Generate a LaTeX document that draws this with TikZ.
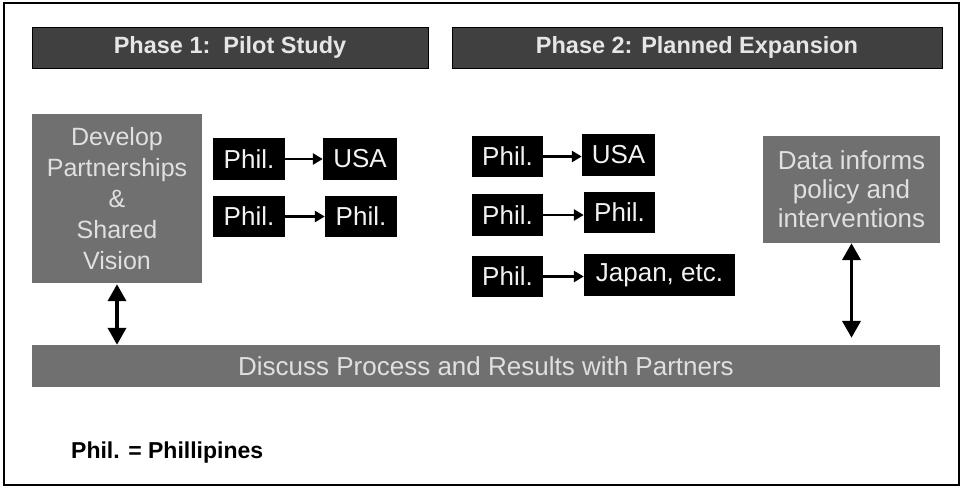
\documentclass[tikz,border=0pt]{standalone}
\usepackage{fontspec}
\setmainfont{Liberation Sans}
\usetikzlibrary{arrows.meta}
\definecolor{hdrfill}{HTML}{404040}
\definecolor{hdrtext}{HTML}{E6E6E6}
\definecolor{grayfill}{HTML}{707070}
\definecolor{graytext}{HTML}{E0E0E0}
\definecolor{blktext}{HTML}{F2F2F2}
\tikzset{
  header/.style={draw=black, line width=0.9pt, fill=hdrfill, text=hdrtext, inner sep=0pt,
    font=\fontsize{23.5}{28}\selectfont\bfseries},
  graybox/.style={fill=grayfill, text=graytext, inner sep=0pt, align=center},
  blkbox/.style={fill=black, text=blktext, inner sep=0pt, font=\fontsize{26}{30}\selectfont},
  smallarrow/.style={line width=2.6pt, -{Triangle[length=10pt,width=11pt]}},
  bigarrow/.style={line width=3.8pt, {Triangle[length=17pt,width=18pt]}-{Triangle[length=17pt,width=18pt]}},
}
\begin{document}
\begin{tikzpicture}[x=1pt,y=-1pt]
\useasboundingbox (0,0) rectangle (962,487);
\draw[line width=1.2pt] (4,3) rectangle (959,485);

\node[header, minimum width=396pt, minimum height=41pt] (h1) at (230,47.5) {Phase 1:\ \ Pilot Study};
\node[header, minimum width=490pt, minimum height=41pt] (h2) at (697,47.5) {Phase 2: Planned Expansion};

\node[graybox, minimum width=170pt, minimum height=169pt, font=\fontsize{25}{31}\selectfont] (dev) at (117,198.5)
  {Develop\\Partnerships\\\&\\Shared\\Vision};

\node[blkbox, minimum width=72pt, minimum height=42pt] (a1) at (249,159) {Phil.};
\node[blkbox, minimum width=74pt, minimum height=42pt] (a2) at (360,159) {USA};
\node[blkbox, minimum width=72pt, minimum height=41pt] (b1) at (249,216.5) {Phil.};
\node[blkbox, minimum width=72pt, minimum height=41pt] (b2) at (361,216.5) {Phil.};

\node[blkbox, minimum width=71pt, minimum height=41pt] (c1) at (507.5,156.5) {Phil.};
\node[blkbox, minimum width=73pt, minimum height=42pt] (c2) at (618.5,155) {USA};
\node[blkbox, minimum width=71pt, minimum height=42pt] (d1) at (507.5,215) {Phil.};
\node[blkbox, minimum width=71pt, minimum height=41pt] (d2) at (619.5,212.5) {Phil.};
\node[blkbox, minimum width=71pt, minimum height=41pt] (e1) at (507.5,276.5) {Phil.};
\node[blkbox, minimum width=151pt, minimum height=42pt] (e2) at (659.5,275) {Japan,\ etc.};

\node[graybox, minimum width=177pt, minimum height=107pt, font=\fontsize{26}{29}\selectfont] (data) at (851.5,189.5)
  {Data informs\\policy and\\interventions};

\node[graybox, minimum width=908pt, minimum height=42pt, font=\fontsize{26}{30}\selectfont] (disc) at (486,366)
  {Discuss Process and Results with Partners};

\node[inner sep=0pt, anchor=west, font=\fontsize{23}{28}\selectfont\bfseries] (leg) at (71,453) {Phil. = Phillipines};

\draw[smallarrow] (a1.east) -- (a1.east -| a2.west);
\draw[smallarrow] (b1.east) -- (b1.east -| b2.west);
\draw[smallarrow] (c1.east) -- (c1.east -| c2.west);
\draw[smallarrow] (d1.east) -- (d1.east -| d2.west);
\draw[smallarrow] (e1.east) -- (e1.east -| e2.west);

\draw[bigarrow, shorten <=1pt] (dev.south) -- (dev.south |- disc.north);
\draw[bigarrow, shorten >=7pt] (data.south) -- (data.south |- disc.north);
\end{tikzpicture}
\end{document}
